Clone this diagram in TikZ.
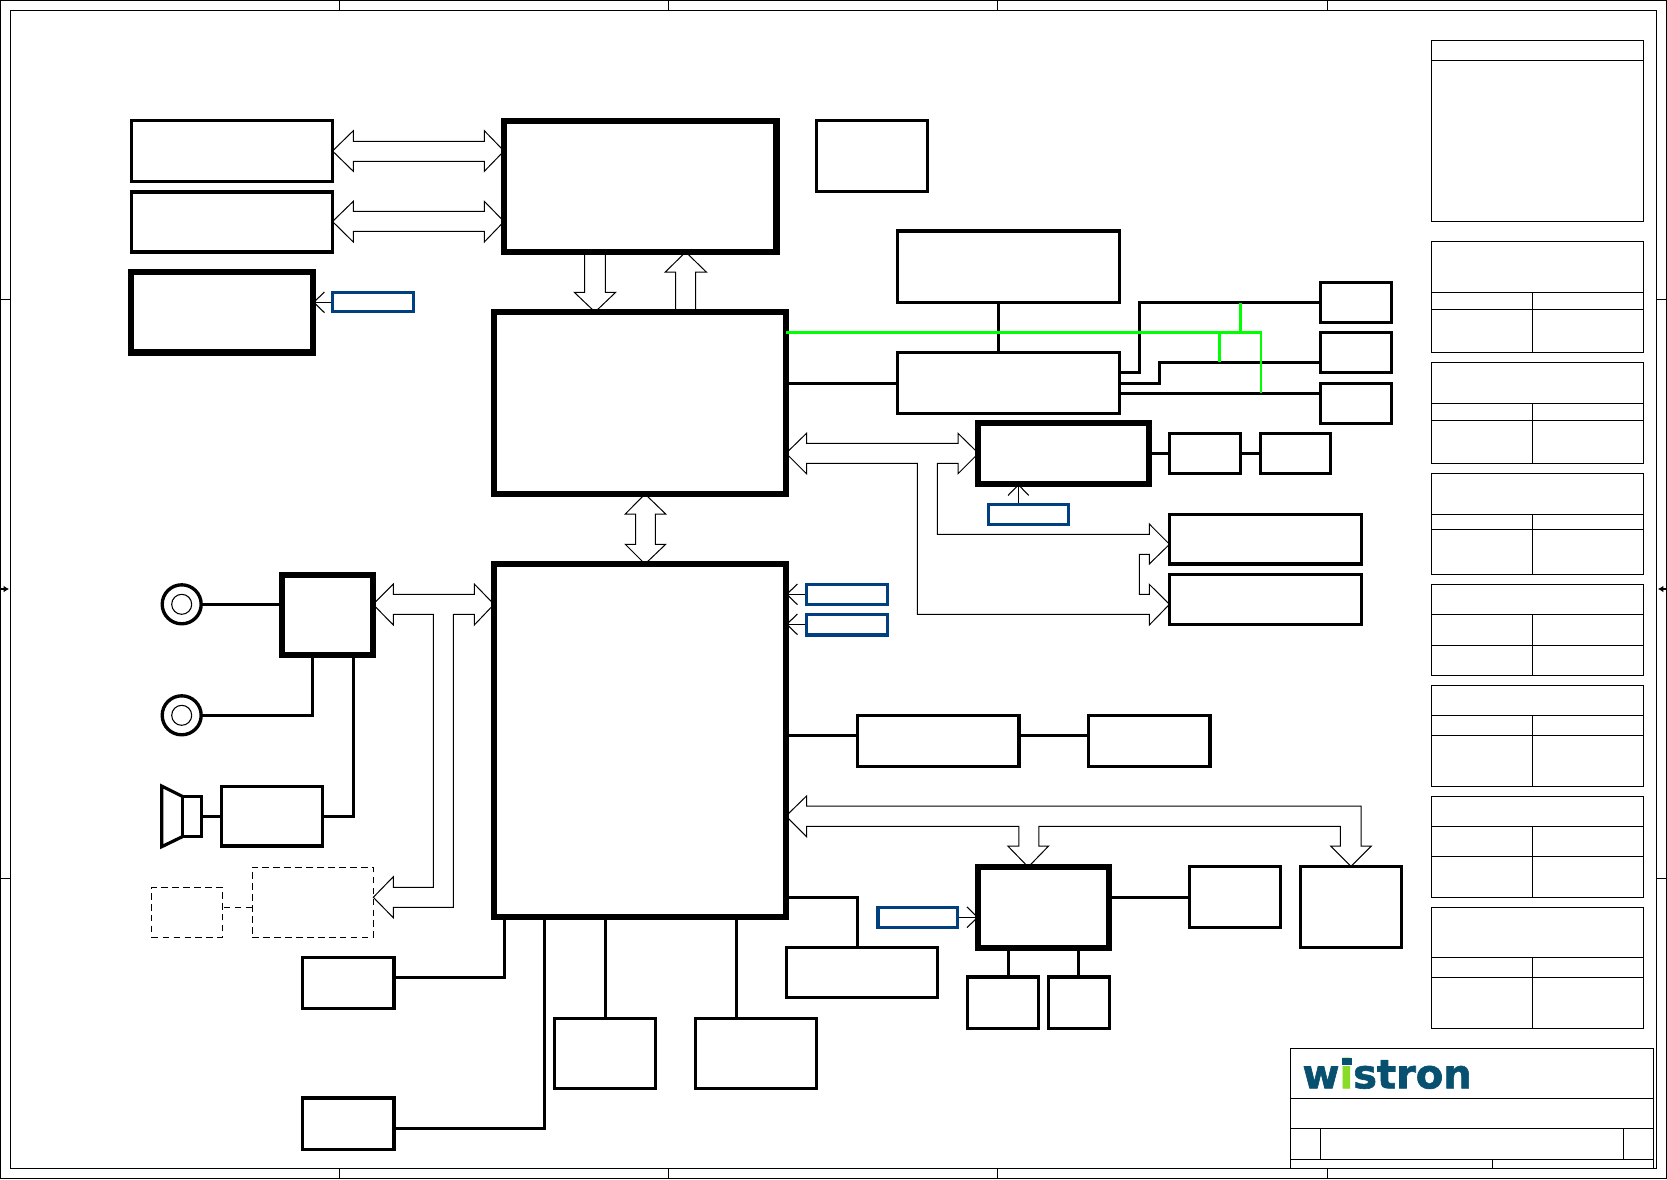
\documentclass[tikz,border=0pt]{standalone}
\usepackage{fontspec}
\usetikzlibrary{fit,arrows.meta,backgrounds}
\newfontfamily\logofont[BoldFeatures={FakeBold=1.6}]{DejaVu Sans}
\definecolor{portblue}{RGB}{0,64,128}
\definecolor{logoblue}{RGB}{8,80,112}
\definecolor{logogreen}{RGB}{136,220,40}
\tikzset{
  boxbase/.style={draw,inner sep=0pt,outer sep=0pt},
  thinbox/.style={boxbase,line width=2.4pt},
  boldbox/.style={boxbase,line width=4.6pt},
  portbox/.style={boxbase,draw=portblue,line width=2.5pt},
  optbox/.style={boxbase,line width=0.8pt,dash pattern=on 5pt off 3.2pt},
  jack/.style={circle,boxbase,line width=2.5pt,minimum size=29.25pt},
  jackcore/.style={circle,boxbase,line width=0.8pt,minimum size=15pt},
  wire/.style={line width=2pt},
  greenwire/.style={line width=1.8pt,draw=green},
  optwire/.style={line width=0.8pt,dash pattern=on 5pt off 3.2pt},
  bus/.style={draw,fill=white,line width=0.75pt,line join=miter},
  feed/.style={line width=0.8pt,-{Straight Barb[length=8pt,width=15.5pt]}},
  sheetline/.style={line width=1pt},
  logotext/.style={inner sep=0pt,outer sep=0pt,anchor=base west,font=\logofont\bfseries\fontsize{30pt}{30pt}\selectfont}
}
\begin{document}
\begin{tikzpicture}[x=0.75pt,y=-0.75pt]
  \useasboundingbox (0,0) rectangle (1667,1179);
  \draw[sheetline] (0.5,0.5) rectangle (1666.5,1178.5);
  \draw[sheetline] (10.5,10.4) rectangle (1656.5,1168.3);
  \foreach \x in {339.3,668.5,997.5,1327.3} {\draw[sheetline] (\x,0.5) -- (\x,10.4) (\x,1168.3) -- (\x,1178.5);}
  \foreach \y in {299.3,878.6} {\draw[sheetline] (0.5,\y) -- (10.5,\y) (1656.5,\y) -- (1666.5,\y);}
  \draw[sheetline,-{Latex[length=4pt,width=5pt]}] (0.5,589) -- (9,589);
  \draw[sheetline,-{Latex[length=4pt,width=5pt]}] (1666.5,589) -- (1658,589);

  \draw[sheetline] (1431.3,40.3) rectangle (1643.3,221.3) (1431.3,60.3) -- (1643.3,60.3);
  \foreach \ya/\yb/\yc/\yd in {241.3/292.3/309.3/352.3,362.5/403.3/420.3/463.3,473.7/514.3/529.3/574.3,584.3/614.3/645.3/675.3,685.3/715.3/735.3/786.3,796.3/826.3/856.3/897.3,907.7/957.3/977.3/1028.3} {
    \draw[sheetline] (1431.3,\ya) rectangle (1643.3,\yd);
    \draw[sheetline] (1431.3,\yb) -- (1643.3,\yb) (1431.3,\yc) -- (1643.3,\yc) (1532.7,\yb) -- (1532.7,\yd);
  }

  \draw[sheetline] (1290.3,1048.3) rectangle (1653.3,1168.3);
  \draw[sheetline] (1290.3,1098.3) -- (1653.3,1098.3) (1290.3,1128.3) -- (1653.3,1128.3) (1290.3,1159.3) -- (1653.3,1159.3);
  \draw[sheetline] (1320.7,1128.3) -- (1320.7,1159.3) (1623.3,1128.3) -- (1623.3,1159.3) (1492.7,1159.3) -- (1492.7,1168.3);
  \node[logotext] (logo) at (1302.5,1088.3) {\textcolor{logoblue}{w}\textcolor{logogreen}{i}\textcolor{logoblue}{stron}};

  \node[thinbox,fit={(131.7,120.7) (332.5,181.3)}] (dimmA) {};
  \node[thinbox,fit={(131.7,192) (332.5,252)}] (dimmB) {};
  \node[boldbox,fit={(131,271.7) (313,352.5)}] (panel) {};
  \node[portbox,fit={(332.7,292.7) (413.5,311.7)}] (panelport) {};
  \node[boldbox,fit={(504,121) (776.5,252)}] (cpu) {};
  \node[thinbox,fit={(816.5,120.5) (927.5,191.2)}] (clock) {};
  \node[boldbox,fit={(494,312) (786,494)}] (mch) {};
  \node[thinbox,fit={(897.6,231) (1119.6,302.3)}] (dock) {};
  \node[thinbox,fit={(897.6,352.3) (1119.6,413.3)}] (switch) {};
  \node[thinbox,fit={(1320.8,282.3) (1391.8,322.7)}] (outA) {};
  \node[thinbox,fit={(1320.8,332.3) (1391.8,372.7)}] (outB) {};
  \node[thinbox,fit={(1320.8,383.3) (1391.8,423.7)}] (outC) {};
  \node[boldbox,fit={(978.4,422.7) (1149,484)}] (video) {};
  \node[thinbox,fit={(1169.4,433.7) (1240.8,473.3)}] (vramA) {};
  \node[thinbox,fit={(1260.8,433.7) (1330.2,473.3)}] (vramB) {};
  \node[portbox,fit={(988.2,504.3) (1068.6,524.7)}] (videoport) {};
  \node[thinbox,fit={(1169.5,514.7) (1361.5,564)}] (lcd) {};
  \node[thinbox,fit={(1169.5,574.7) (1361.5,624.3)}] (crt) {};
  \node[boldbox,fit={(494,564) (786,917)}] (ich) {};
  \node[portbox,fit={(806.3,584.3) (887.7,604.3)}] (ichportA) {};
  \node[portbox,fit={(806.3,614.3) (887.7,635)}] (ichportB) {};
  \node[thinbox,fit={(857.3,715.3) (1019,766.3)}] (lpc) {};
  \node[thinbox,fit={(1088.3,715.3) (1210,766.3)}] (kbc) {};
  \node[boldbox,fit={(282,575) (373,654.7)}] (codec) {};
  \node[jack] (jackA) at (181.7,604.3) {};
  \node[jackcore] (jackAcore) at (181.7,604.3) {};
  \node[jack] (jackB) at (181.7,715.3) {};
  \node[jackcore] (jackBcore) at (181.7,715.3) {};
  \node[thinbox,fit={(221.7,786.7) (322.7,846)}] (amp) {};
  \node[thinbox,fit={(182.3,796.3) (201.7,836.7)}] (speaker) {};
  \draw[line width=2.4pt,line join=miter] (speaker.north west) -- (161.7,786) -- (161.7,846.7) -- (speaker.south west);
  \node[optbox,fit={(252.3,867.3) (373.3,937.3)}] (modem) {};
  \node[optbox,fit={(151.7,887.3) (222.3,937.3)}] (rjport) {};
  \node[thinbox,fit={(302.5,957.3) (394,1008.7)}] (usbA) {};
  \node[thinbox,fit={(302.5,1098) (394,1149.3)}] (usbB) {};
  \node[thinbox,fit={(554.3,1018.3) (655.7,1088.7)}] (sata) {};
  \node[thinbox,fit={(695.4,1018.3) (816.4,1088.7)}] (pata) {};
  \node[thinbox,fit={(786.5,947.3) (937.6,997.3)}] (mini) {};
  \node[portbox,fit={(878,907.3) (957.6,927.3)}] (lanport) {};
  \node[boldbox,fit={(978.4,867) (1108.6,947.7)}] (lan) {};
  \node[thinbox,fit={(1189.4,866.3) (1280.8,927.3)}] (rj) {};
  \node[thinbox,fit={(1300.8,866.3) (1401.2,947.7)}] (card) {};
  \node[thinbox,fit={(967.8,977) (1038.8,1028.7)}] (xfmrA) {};
  \node[thinbox,fit={(1048.2,977) (1109.8,1028.7)}] (xfmrB) {};
  \node[fill=logoblue,inner sep=0pt,outer sep=0pt,fit={(1342,1058.3) (1351.5,1065)}] (logodot) {};

  \begin{scope}[on background layer]
    \draw[bus] (dimmA.east |- 0,151) -- (353.3,130.7) -- (353.3,141.3) -- (484.3,141.3) -- (484.3,130.7) -- (cpu.west |- 0,151) -- (484.3,171.3) -- (484.3,161.3) -- (353.3,161.3) -- (353.3,171.3) -- cycle;
    \draw[bus] (dimmB.east |- 0,221.5) -- (353.3,201.3) -- (353.3,211.3) -- (484.3,211.3) -- (484.3,201.3) -- (cpu.west |- 0,221.5) -- (484.3,242) -- (484.3,231.3) -- (353.3,231.3) -- (353.3,242) -- cycle;
    \draw[bus] (584.7,252) -- (584.7,292.3) -- (574.3,292.3) -- (595,0 |- mch.north) -- (615.7,292.3) -- (605.3,292.3) -- (605.3,252);
    \draw[bus] (675.7,312) -- (675.7,272) -- (665.3,272) -- (685.7,0 |- cpu.south) -- (706.3,272) -- (695.7,272) -- (695.7,312);
    \draw[bus] (645,0 |- mch.south) -- (665.7,514) -- (655.3,514) -- (655.3,544.3) -- (665.7,544.3) -- (645,0 |- ich.north) -- (625.3,544.3) -- (635.7,544.3) -- (635.7,514) -- (625.3,514) -- cycle;
    \draw[bus] (mch.east |- 0,453.3) -- (806.5,433.3) -- (806.5,443.3) -- (958,443.3) -- (958,433.3) -- (video.west |- 0,453.3) -- (958,473.7) -- (958,463.3) -- (937.4,463.3) -- (937.4,534.3) -- (1149.3,534.3) -- (1149.3,524) -- (lcd.west |- 0,544.3) -- (1149.3,564) -- (1149.3,554.3) -- (1139.3,554.3) -- (1139.3,594.3) -- (1149.3,594.3) -- (1149.3,584.3) -- (crt.west |- 0,604.3) -- (1149.3,625) -- (1149.3,614.3) -- (917.4,614.3) -- (917.4,463.3) -- (806.5,463.3) -- (806.5,473.7) -- cycle;
    \draw[bus] (codec.east |- 0,604.3) -- (393.3,584) -- (393.3,594.3) -- (474.3,594.3) -- (474.3,584) -- (ich.west |- 0,604.3) -- (474.3,625) -- (474.3,614.3) -- (453.3,614.3) -- (453.3,907.3) -- (393.3,907.3) -- (393.3,917.7) -- (modem.east |- 0,897.3) -- (393.3,876.7) -- (393.3,887.3) -- (433.3,887.3) -- (433.3,614.3) -- (393.3,614.3) -- (393.3,625) -- cycle;
    \draw[bus] (ich.east |- 0,816) -- (806.5,796) -- (806.5,806) -- (1361.2,806) -- (1361.2,846) -- (1371.4,846) -- (1351,0 |- card.north) -- (1330.6,846) -- (1340.4,846) -- (1340.4,826.3) -- (1038.8,826.3) -- (1038.8,846) -- (1048.6,846) -- (1028.2,0 |- lan.north) -- (1007.8,846) -- (1018.8,846) -- (1018.8,826.3) -- (806.5,826.3) -- (806.5,836.7) -- cycle;

    \draw[feed] (panelport.west |- 0,302.3) -- (panel.east |- 0,302.3);
    \draw[feed] (videoport.north -| 1018.4,0) -- (video.south -| 1018.4,0);
    \draw[feed] (ichportA.west |- 0,594.3) -- (ich.east |- 0,594.3);
    \draw[feed] (ichportB.west |- 0,624.3) -- (ich.east |- 0,624.3);
    \draw[feed] (lanport.east |- 0,917.3) -- (lan.west |- 0,917.3);

    \draw[wire] (dock.south -| 998.4,0) -- (switch.north -| 998.4,0);
    \draw[wire] (mch.east |- 0,383.7) -- (switch.west |- 0,383.7);
    \draw[wire] (switch.east |- 0,372.3) -- (1139.6,372.3) -- (1139.6,302.3) -- (outA.west |- 0,302.3);
    \draw[wire] (switch.east |- 0,383.7) -- (1159.6,383.7) -- (1159.6,362.3) -- (outB.west |- 0,362.3);
    \draw[wire] (switch.east |- 0,393.3) -- (outC.west |- 0,393.3);
    \draw[wire] (video.east |- 0,453.3) -- (vramA.west |- 0,453.3);
    \draw[wire] (vramA.east |- 0,453.3) -- (vramB.west |- 0,453.3);
    \draw[wire] (ich.east |- 0,735.3) -- (lpc.west |- 0,735.3);
    \draw[wire] (lpc.east |- 0,735.3) -- (kbc.west |- 0,735.3);
    \draw[wire] (jackA.east) -- (codec.west |- jackA.east);
    \draw[wire] (jackB.east) -- (312.3,715.3) -- (312.3,0 |- codec.south);
    \draw[wire] (353.3,0 |- codec.south) -- (353.3,816.3) -- (amp.east |- 0,816.3);
    \draw[wire] (amp.west |- 0,816.3) -- (speaker.east |- 0,816.3);
    \draw[optwire] (modem.west |- 0,907.3) -- (rjport.east |- 0,907.3);
    \draw[wire] (504.6,0 |- ich.south) -- (504.6,977.3) -- (usbA.east |- 0,977.3);
    \draw[wire] (544.6,0 |- ich.south) -- (544.6,1128.3) -- (usbB.east |- 0,1128.3);
    \draw[wire] (605.4,0 |- ich.south) -- (605.4,0 |- sata.north);
    \draw[wire] (736.4,0 |- ich.south) -- (736.4,0 |- pata.north);
    \draw[wire] (ich.east |- 0,897.3) -- (857.6,897.3) -- (857.6,0 |- mini.north);
    \draw[wire] (lan.east |- 0,897.3) -- (rj.west |- 0,897.3);
    \draw[wire] (1008.2,0 |- lan.south) -- (1008.2,0 |- xfmrA.north);
    \draw[wire] (1078.8,0 |- lan.south) -- (1078.8,0 |- xfmrB.north);
  \end{scope}

  \draw[greenwire] (mch.east |- 0,332.3) -- (1260.8,332.3) -- (1260.8,393.3);
  \draw[greenwire] (1240.4,332.3) -- (1240.4,303.3);
  \draw[greenwire] (1219.6,332.3) -- (1219.6,362);
\end{tikzpicture}
\end{document}
